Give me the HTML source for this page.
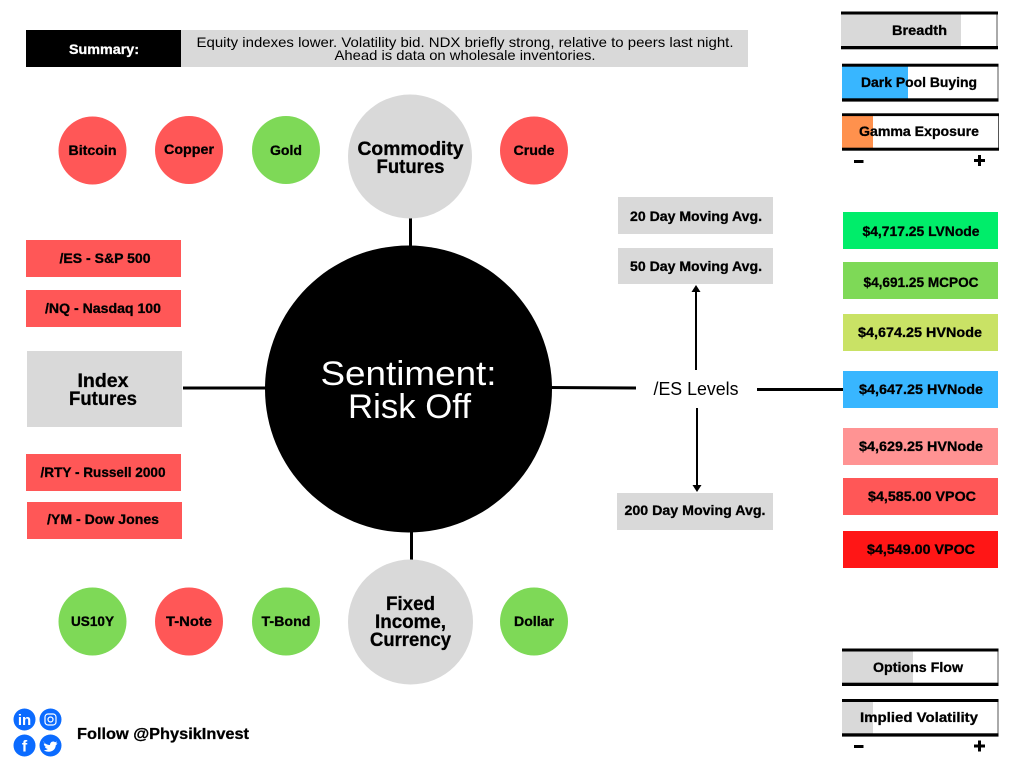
<!DOCTYPE html>
<html><head><meta charset="utf-8"><style>
html,body{margin:0;padding:0;background:#fff;width:1024px;height:768px;overflow:hidden}
svg{display:block}
text{font-family:"Liberation Sans",sans-serif;fill:#000;text-anchor:middle}
.b{font-weight:bold;font-size:14px;stroke:#000;stroke-width:.3px}
.h{font-weight:bold;font-size:19px;stroke:#000;stroke-width:.3px}
</style></head><body>
<svg width="1024" height="768" viewBox="0 0 1024 768" xmlns="http://www.w3.org/2000/svg">
<rect width="1024" height="768" fill="#fff"/>
<!-- summary -->
<rect x="26" y="30" width="155" height="37" fill="#000"/>
<rect x="181" y="30" width="567" height="37" fill="#d9d9d9"/>
<text x="104" y="54" class="b" style="fill:#fff;stroke:#fff" textLength="70" lengthAdjust="spacingAndGlyphs">Summary:</text>
<text x="465" y="47" font-size="14" textLength="537" lengthAdjust="spacingAndGlyphs">Equity indexes lower. Volatility bid. NDX briefly strong, relative to peers last night.</text>
<text x="465" y="60" font-size="14" textLength="261" lengthAdjust="spacingAndGlyphs">Ahead is data on wholesale inventories.</text>
<!-- connectors -->
<g stroke="#000" fill="none">
<line x1="410.500" y1="218" x2="410.500" y2="250" stroke-width="3"/>
<line x1="411.500" y1="530" x2="411.500" y2="560" stroke-width="3"/>
<line x1="183" y1="388" x2="270" y2="388" stroke-width="3"/>
<line x1="548" y1="387.500" x2="636" y2="388" stroke-width="3"/>
<line x1="757" y1="389.500" x2="843" y2="389.500" stroke-width="3"/>
<line x1="696" y1="370" x2="696" y2="290" stroke-width="2"/>
<line x1="697" y1="408" x2="697" y2="486" stroke-width="2"/>
</g>
<polygon points="696,285 700.500,292 691.500,292" fill="#000"/>
<polygon points="697,492 692.500,485 701.500,485" fill="#000"/>
<!-- main circles -->
<circle cx="408.500" cy="389" r="143.500" fill="#000"/>
<text x="408.500" y="385" font-size="34" style="fill:#fff" textLength="176" lengthAdjust="spacingAndGlyphs">Sentiment:</text>
<text x="409.500" y="418" font-size="34" style="fill:#fff" textLength="123" lengthAdjust="spacingAndGlyphs">Risk Off</text>
<circle cx="410" cy="156.500" r="62" fill="#d9d9d9"/>
<text x="410.500" y="155" class="h" textLength="106" lengthAdjust="spacingAndGlyphs">Commodity</text>
<text x="410.500" y="173" class="h" textLength="68" lengthAdjust="spacingAndGlyphs">Futures</text>
<circle cx="410.500" cy="622" r="62.500" fill="#d9d9d9"/>
<text x="410.500" y="610" class="h" textLength="49" lengthAdjust="spacingAndGlyphs">Fixed</text>
<text x="410.500" y="628" class="h" textLength="71" lengthAdjust="spacingAndGlyphs">Income,</text>
<text x="410.500" y="646" class="h" textLength="81" lengthAdjust="spacingAndGlyphs">Currency</text>
<!-- small circles top -->
<circle cx="92.500" cy="150.500" r="34" fill="#ff5757"/>
<text x="92.500" y="155" class="b" textLength="48" lengthAdjust="spacingAndGlyphs">Bitcoin</text>
<circle cx="189" cy="150" r="34" fill="#ff5757"/>
<text x="189" y="154" class="b" textLength="50" lengthAdjust="spacingAndGlyphs">Copper</text>
<circle cx="286" cy="150" r="34" fill="#7ed957"/>
<text x="286" y="155" class="b" textLength="32" lengthAdjust="spacingAndGlyphs">Gold</text>
<circle cx="534" cy="150.500" r="34" fill="#ff5757"/>
<text x="534" y="155" class="b" textLength="41" lengthAdjust="spacingAndGlyphs">Crude</text>
<!-- small circles bottom -->
<circle cx="92.500" cy="621.500" r="34" fill="#7ed957"/>
<text x="92.500" y="626" class="b" textLength="43" lengthAdjust="spacingAndGlyphs">US10Y</text>
<circle cx="189" cy="621.500" r="34" fill="#ff5757"/>
<text x="189" y="626" class="b" textLength="46" lengthAdjust="spacingAndGlyphs">T-Note</text>
<circle cx="286" cy="621.500" r="34" fill="#7ed957"/>
<text x="286" y="626" class="b" textLength="49" lengthAdjust="spacingAndGlyphs">T-Bond</text>
<circle cx="534" cy="621.500" r="34" fill="#7ed957"/>
<text x="534" y="626" class="b" textLength="40" lengthAdjust="spacingAndGlyphs">Dollar</text>
<!-- index futures -->
<rect x="26" y="240" width="155" height="37" fill="#ff5757"/>
<text x="105" y="263" class="b" textLength="91" lengthAdjust="spacingAndGlyphs">/ES - S&amp;P 500</text>
<rect x="26" y="290" width="155" height="37" fill="#ff5757"/>
<text x="103" y="313" class="b" textLength="116" lengthAdjust="spacingAndGlyphs">/NQ - Nasdaq 100</text>
<rect x="27" y="351" width="155" height="76" fill="#d9d9d9"/>
<text x="103" y="387" class="h" textLength="51" lengthAdjust="spacingAndGlyphs">Index</text>
<text x="103" y="405" class="h" textLength="68" lengthAdjust="spacingAndGlyphs">Futures</text>
<rect x="26" y="454" width="155" height="37" fill="#ff5757"/>
<text x="103" y="477" class="b" textLength="125" lengthAdjust="spacingAndGlyphs">/RTY - Russell 2000</text>
<rect x="27" y="502" width="155" height="37" fill="#ff5757"/>
<text x="103" y="524" class="b" textLength="112" lengthAdjust="spacingAndGlyphs">/YM - Dow Jones</text>
<!-- moving averages -->
<rect x="618" y="197" width="155" height="37" fill="#d9d9d9"/>
<text x="696" y="221" class="b" textLength="132" lengthAdjust="spacingAndGlyphs">20 Day Moving Avg.</text>
<rect x="618" y="248" width="155" height="36" fill="#d9d9d9"/>
<text x="696" y="271" class="b" textLength="132" lengthAdjust="spacingAndGlyphs">50 Day Moving Avg.</text>
<rect x="617" y="493" width="156" height="37" fill="#d9d9d9"/>
<text x="695" y="515" class="b" textLength="141" lengthAdjust="spacingAndGlyphs">200 Day Moving Avg.</text>
<text x="696" y="395" font-size="18" textLength="85" lengthAdjust="spacingAndGlyphs">/ES Levels</text>
<!-- levels -->
<rect x="843" y="212" width="155" height="37" fill="#00ed6a"/>
<text x="921" y="236" class="b" textLength="117" lengthAdjust="spacingAndGlyphs">$4,717.25 LVNode</text>
<rect x="843" y="262" width="155" height="37" fill="#7ed957"/>
<text x="921" y="287" class="b" textLength="115" lengthAdjust="spacingAndGlyphs">$4,691.25 MCPOC</text>
<rect x="843" y="314" width="155" height="37" fill="#c9e265"/>
<text x="920" y="337" class="b" textLength="124" lengthAdjust="spacingAndGlyphs">$4,674.25 HVNode</text>
<rect x="843" y="371" width="155" height="37" fill="#38b6ff"/>
<text x="921" y="394" class="b" textLength="124" lengthAdjust="spacingAndGlyphs">$4,647.25 HVNode</text>
<rect x="843" y="428" width="155" height="37" fill="#ff9393"/>
<text x="921" y="451" class="b" textLength="124" lengthAdjust="spacingAndGlyphs">$4,629.25 HVNode</text>
<rect x="843" y="478" width="155" height="37" fill="#ff5757"/>
<text x="922" y="501" class="b" textLength="108" lengthAdjust="spacingAndGlyphs">$4,585.00 VPOC</text>
<rect x="843" y="531" width="155" height="37" fill="#ff1616"/>
<text x="921" y="554" class="b" textLength="108" lengthAdjust="spacingAndGlyphs">$4,549.00 VPOC</text>
<!-- gauges -->
<rect x="841" y="14" width="120" height="32" fill="#d9d9d9"/>
<rect x="996.500" y="12" width="1" height="36" fill="#555"/>
<rect x="841" y="11.500" width="157" height="3" fill="#000"/>
<rect x="841" y="46" width="157" height="3.300" fill="#000"/>
<text x="919.500" y="35" class="b" textLength="55" lengthAdjust="spacingAndGlyphs">Breadth</text>

<rect x="842" y="66" width="66" height="33" fill="#38b6ff"/>
<rect x="997.500" y="64" width="1" height="36" fill="#555"/>
<rect x="842" y="63.700" width="156.500" height="3" fill="#000"/>
<rect x="842" y="98.300" width="156.500" height="3.300" fill="#000"/>
<text x="919" y="87" class="b" textLength="116" lengthAdjust="spacingAndGlyphs">Dark Pool Buying</text>

<rect x="842" y="116" width="31" height="32" fill="#ff914d"/>
<rect x="998" y="114" width="1" height="36" fill="#555"/>
<rect x="842" y="113.300" width="157" height="2.800" fill="#000"/>
<rect x="842" y="147.700" width="157" height="3" fill="#000"/>
<text x="919" y="136" class="b" textLength="120" lengthAdjust="spacingAndGlyphs">Gamma Exposure</text>
<rect x="854" y="160" width="9.500" height="3" fill="#000"/>
<rect x="974" y="159" width="11" height="3" fill="#000"/>
<rect x="978" y="155" width="3" height="11" fill="#000"/>

<rect x="842" y="651" width="71" height="32" fill="#d9d9d9"/>
<rect x="997.500" y="649" width="1" height="36" fill="#555"/>
<rect x="842" y="648.500" width="156.500" height="3" fill="#000"/>
<rect x="842" y="682.700" width="156.500" height="3.300" fill="#000"/>
<text x="918" y="672" class="b" textLength="90" lengthAdjust="spacingAndGlyphs">Options Flow</text>

<rect x="842" y="702" width="31" height="32" fill="#d9d9d9"/>
<rect x="997.500" y="700" width="1" height="36" fill="#555"/>
<rect x="842" y="699" width="156.500" height="3" fill="#000"/>
<rect x="842" y="733.300" width="156.500" height="3.300" fill="#000"/>
<text x="919" y="722" class="b" textLength="118" lengthAdjust="spacingAndGlyphs">Implied Volatility</text>
<rect x="854" y="745" width="9.500" height="3" fill="#000"/>
<rect x="974" y="744.500" width="11" height="3" fill="#000"/>
<rect x="978" y="740.500" width="3" height="11" fill="#000"/>
<!-- social -->
<circle cx="24.500" cy="719.500" r="11" fill="#0b6bff"/>
<circle cx="50.500" cy="719.500" r="11" fill="#0b6bff"/>
<circle cx="24.500" cy="745.500" r="11" fill="#0b6bff"/>
<circle cx="50.500" cy="745.500" r="11" fill="#0b6bff"/>
<text x="24.500" y="725" font-size="15" font-weight="bold" style="fill:#fff">in</text>
<rect x="45" y="714" width="11" height="11" rx="3" fill="none" stroke="#fff" stroke-width="1.200"/>
<circle cx="50.500" cy="719.500" r="2.500" fill="none" stroke="#fff" stroke-width="1.200"/>
<text x="24.500" y="751.500" font-size="16" font-weight="bold" style="fill:#fff">f</text>
<path d="M44 742.500c2 2 4 3 6.500 3 0-3 3-4.500 5-2.800l2-.7-1 2 1.500-.3c-.5 1-1 1.500-1.700 2-.3 4-3.300 6.500-7 6.500-2 0-3.700-.5-5-1.500 1.500.1 3-.3 4-1.200-1.500-.2-2.500-1-3-2.200h1.300c-1.500-.6-2.300-1.700-2.300-3l1.300.3c-1.300-.8-1.600-2.300-.8-3.600z" fill="#fff" transform="translate(-.500 -.500)"/>
<text x="163" y="739" font-size="16" font-weight="bold" stroke="#000" stroke-width=".3" textLength="172" lengthAdjust="spacingAndGlyphs">Follow @PhysikInvest</text>
</svg>
</body></html>
